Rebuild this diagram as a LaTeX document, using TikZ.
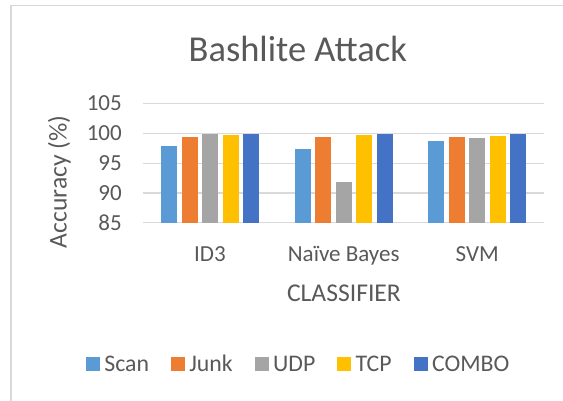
\documentclass[tikz,border=0pt]{standalone}
\usepackage{fontspec}
\setmainfont{Carlito}
\usetikzlibrary{positioning}

\definecolor{scanblue}{HTML}{5B9BD5}
\definecolor{junkorange}{HTML}{ED7D31}
\definecolor{udpgray}{HTML}{A5A5A5}
\definecolor{tcpyellow}{HTML}{FFC000}
\definecolor{comboblue}{HTML}{4472C4}
\definecolor{txtgray}{HTML}{595959}
\definecolor{gridgray}{HTML}{D9D9D9}

\tikzset{
  ticklbl/.style={text=txtgray, inner sep=0pt, font=\fontsize{23}{26}\selectfont},
  axistitle/.style={text=txtgray, inner sep=0pt, font=\fontsize{25.6}{28}\selectfont},
  legsq/.style={inner sep=0pt, minimum size=14pt},
  leglbl/.style={text=txtgray, inner sep=0pt, font=\fontsize{23.8}{26}\selectfont, text height=15pt, text depth=0pt},
  gridline/.style={gridgray, line width=1.2pt},
}

\begin{document}
\begin{tikzpicture}[x=1pt, y=-1pt]
\useasboundingbox (0,0) rectangle (563,400);
% chart frame (runs off the page on the right and at the bottom)
\draw [gridgray, line width=1.6pt] (11,405) -- (11,5.5) -- (570,5.5);

\node [text=txtgray, inner sep=0pt, font=\fontsize{36.5}{40}\selectfont, anchor=base] (title) at (297.8,61) {Bashlite Attack};

% value axis: 85 at y=222.7, 5.96 per unit
\foreach \v in {85,90,...,105} {
  \draw [gridline] (143,{222.7-(\v-85)*5.96}) -- (544,{222.7-(\v-85)*5.96});
  \node [ticklbl, anchor=east] (t\v) at (122,{222.7-(\v-85)*5.96}) {\v};
}
\node [axistitle, rotate=90, anchor=base] (ytitle) at (66.7,182) {Accuracy (\%)};

% bars, one group per classifier
\foreach \c/\a/\b/\u/\t/\k in {210/97.9/99.4/99.8/99.7/99.8, 343.7/97.3/99.4/91.8/99.7/99.8, 477.3/98.7/99.4/99.2/99.6/99.8} {
  \fill [scanblue]   (\c-49,222.7) rectangle (\c-33,{222.7-(\a-85)*5.96});
  \fill [junkorange] (\c-28.5,222.7) rectangle (\c-12.5,{222.7-(\b-85)*5.96});
  \fill [udpgray]    (\c-8,222.7) rectangle (\c+8,{222.7-(\u-85)*5.96});
  \fill [tcpyellow]  (\c+12.5,222.7) rectangle (\c+28.5,{222.7-(\t-85)*5.96});
  \fill [comboblue]  (\c+33,222.7) rectangle (\c+49,{222.7-(\k-85)*5.96});
}

\node [ticklbl, anchor=base] (id3) at (210,261.7) {ID3};
\node [ticklbl, anchor=base] (nb) at (343.7,261.7) {Naïve Bayes};
\node [ticklbl, anchor=base] (svm) at (477.3,261.7) {SVM};
\node [axistitle, anchor=base] (xtitle) at (344,301.7) {CLASSIFIER};

% legend
\node [legsq, fill=scanblue] (sqscan) at (93,364) {};
\node [leglbl, right=4pt of sqscan] (lscan) {Scan};
\node [legsq, fill=junkorange, right=21.5pt of lscan] (sqjunk) {};
\node [leglbl, right=4pt of sqjunk] (ljunk) {Junk};
\node [legsq, fill=udpgray, right=21.5pt of ljunk] (squdp) {};
\node [leglbl, right=4pt of squdp] (ludp) {UDP};
\node [legsq, fill=tcpyellow, right=21.5pt of ludp] (sqtcp) {};
\node [leglbl, right=4pt of sqtcp] (ltcp) {TCP};
\node [legsq, fill=comboblue, right=21.5pt of ltcp] (sqcombo) {};
\node [leglbl, right=4pt of sqcombo] (lcombo) {COMBO};
\end{tikzpicture}
\end{document}
